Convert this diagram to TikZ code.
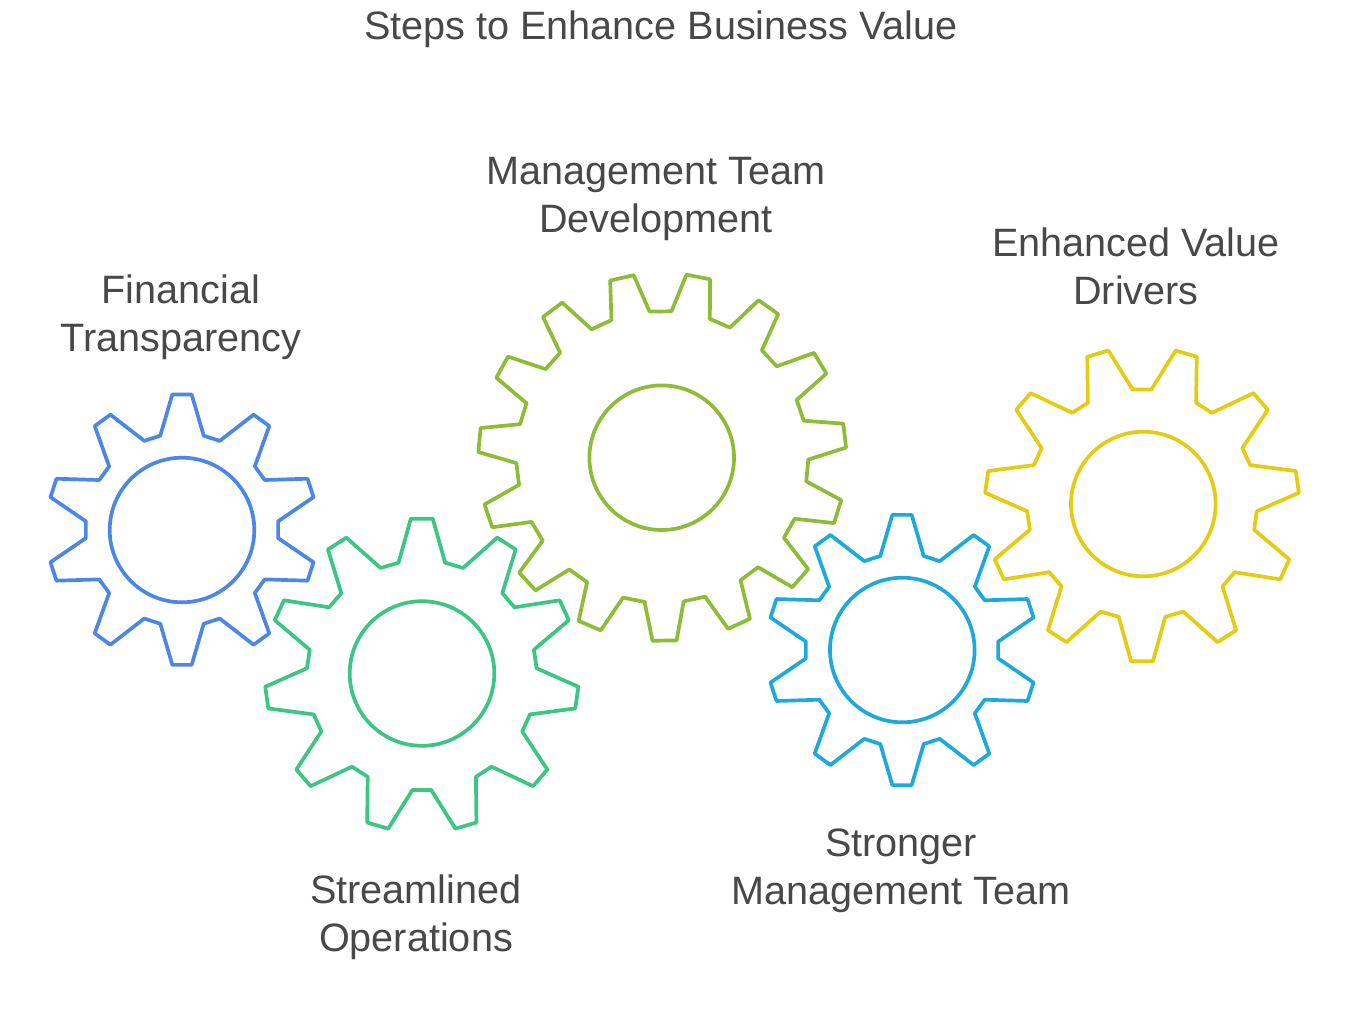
\documentclass[tikz,border=0pt]{standalone}
\usepackage{fontspec}
\setmainfont{Liberation Sans}
\definecolor{gblue}{HTML}{4D87E4}
\definecolor{ggreen}{HTML}{3CC583}
\definecolor{golive}{HTML}{8FBC36}
\definecolor{gsky}{HTML}{1EA9DC}
\definecolor{gyellow}{HTML}{E3CC12}
\definecolor{txt}{HTML}{484848}
% #1 colour, #2 cx, #3 cy, #4 teeth, #5 rotation, #6 tip radius, #7 root radius, #8 tip half angle, #9 root half angle
\newcommand\gearoutline[9]{%
  \draw[gearline,draw=#1,shift={(#2,#3)}] ({#5-#9-90}:#7)
    \foreach \gi in {1,...,#4} {
      -- ({#5+(\gi-1)*360/#4-#9-90}:#7)
      -- ({#5+(\gi-1)*360/#4-#8-90}:#6)
      -- ({#5+(\gi-1)*360/#4+#8-90}:#6)
      -- ({#5+(\gi-1)*360/#4+#9-90}:#7)
    } -- cycle;%
}
\tikzset{
  gearline/.style={line width=3.7pt,line join=round,fill=none},
  hub/.style={circle,line width=3.7pt,minimum size=144.6pt,inner sep=0pt},
  label/.style={text=txt,font=\fontsize{39.6}{48}\selectfont,align=center,inner sep=0pt}
}
\begin{document}
\begin{tikzpicture}[x=1pt,y=-1pt]
\useasboundingbox (0,0) rectangle (1349,1012);
\fill[white] (0,0) rectangle (1349,1012);
\gearoutline{gblue}{182}{529.7}{10}{0}{135.5}{96.5}{4.1}{13}
\gearoutline{ggreen}{421.8}{675.3}{11}{0}{157}{115}{4}{11.7}
\gearoutline{golive}{662.3}{457}{15}{179.3}{184}{146}{3.75}{7.7}
\gearoutline{gsky}{902}{650}{10}{0}{135.5}{96.5}{4.1}{13}
\gearoutline{gyellow}{1142}{504.2}{11}{180}{157.3}{115}{4}{11.7}
\node[hub,draw=gblue] (h1) at (182,530) {};
\node[hub,draw=ggreen] (h2) at (422,673.5) {};
\node[hub,draw=golive] (h3) at (661.7,457.7) {};
\node[hub,draw=gsky] (h4) at (902.3,650) {};
\node[hub,draw=gyellow] (h5) at (1143.3,504) {};
\node[label] (title) at (661,29.5) {Steps to Enhance Business Value};
\node[label] (t1) at (181,317.5) {Financial\\Transparency};
\node[label] (t2) at (416,917.5) {Streamlined\\Operations};
\node[label] (t3) at (656,198.5) {Management Team\\Development};
\node[label] (t4) at (901,870.5) {Stronger\\Management Team};
\node[label] (t5) at (1136,266.5) {Enhanced Value\\Drivers};
\end{tikzpicture}
\end{document}
